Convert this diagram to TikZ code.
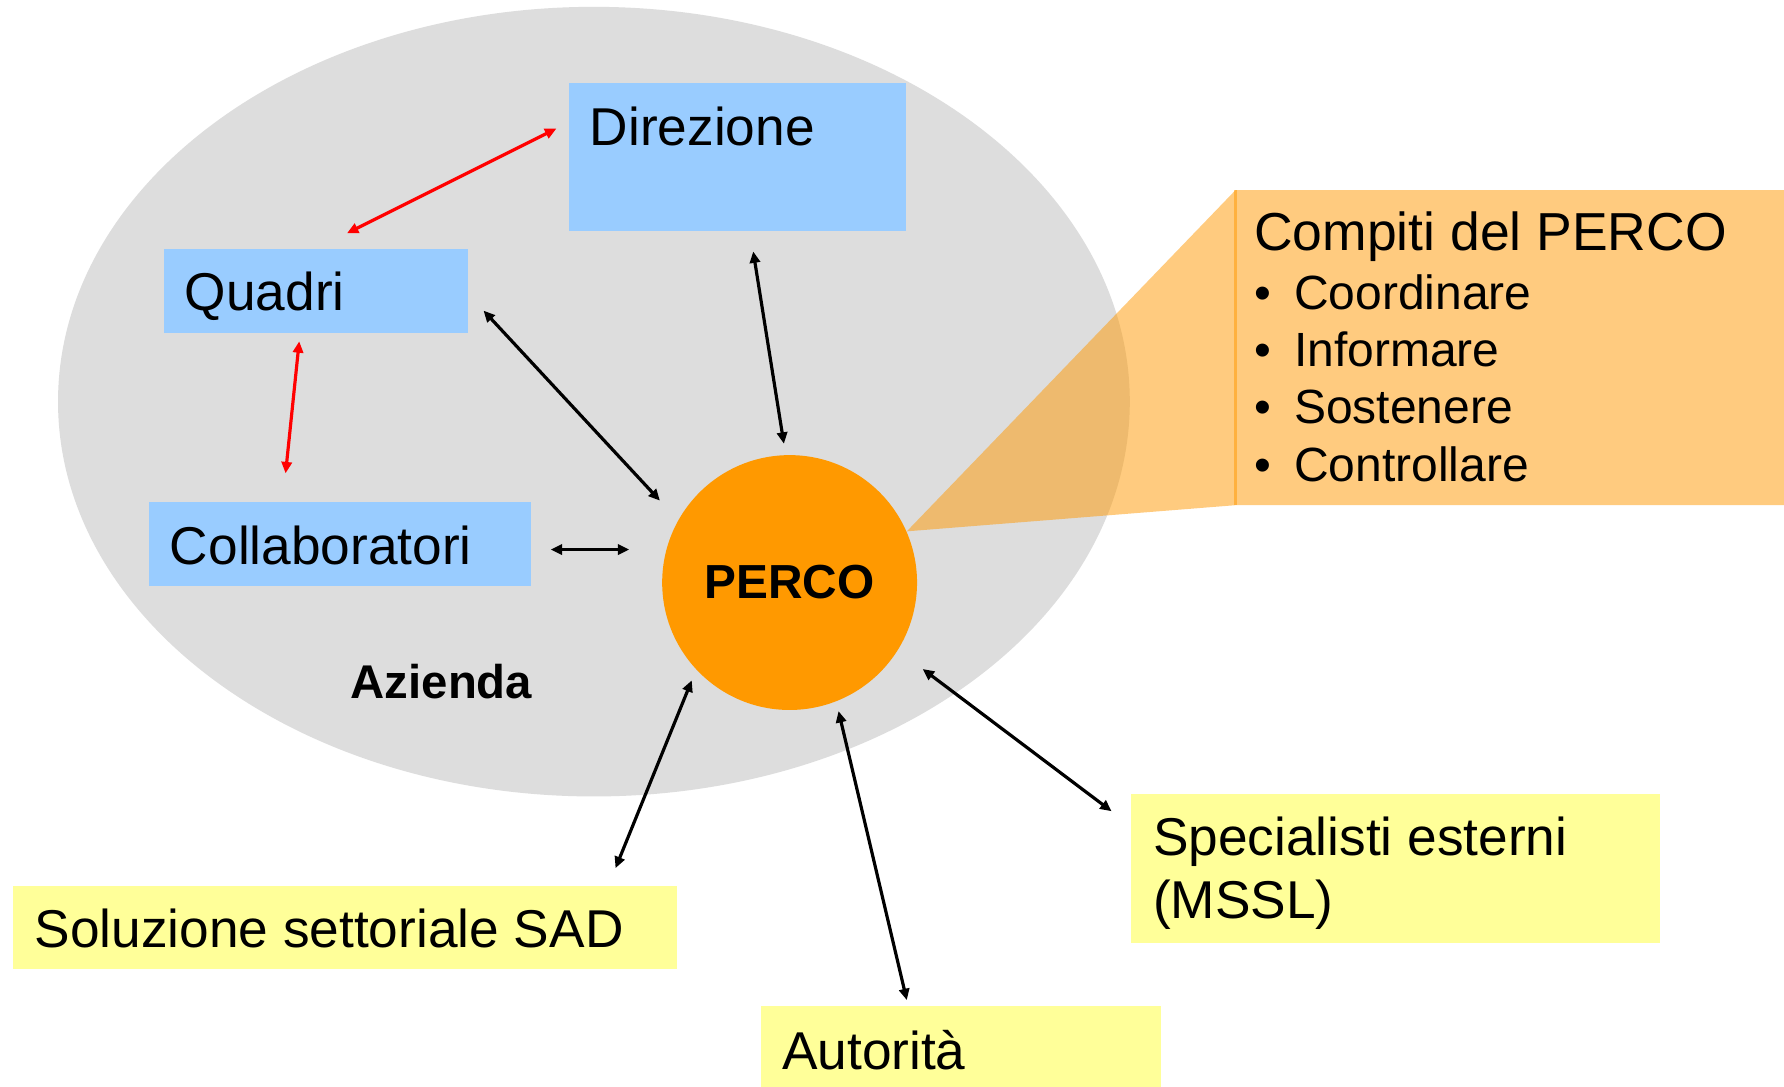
\documentclass[tikz,border=0pt]{standalone}
\usepackage{fontspec}
\setmainfont{Liberation Sans}
\usetikzlibrary{arrows.meta,shapes.geometric}
\definecolor{azgray}{HTML}{DDDDDD}
\definecolor{boxblue}{HTML}{99CCFF}
\definecolor{boxyellow}{HTML}{FFFF99}
\definecolor{percoorange}{HTML}{FF9900}
\tikzset{
  bluebox/.style={rectangle, fill=boxblue, draw=none, inner sep=0pt},
  yellowbox/.style={rectangle, fill=boxyellow, draw=none, inner sep=0pt},
  lbl/.style={anchor=base west, inner sep=0pt, font=\fontsize{23.4}{28}\selectfont},
  itm/.style={anchor=base west, inner sep=0pt, font=\fontsize{21.1}{26}\selectfont},
  blk/.style={black, line width=1.4pt, {Triangle[length=5pt,width=4.5pt]}-{Triangle[length=5pt,width=4.5pt]}},
  redarr/.style={red, line width=1.4pt, {Triangle[length=5pt,width=4.5pt]}-{Triangle[length=5pt,width=4.5pt]}}
}
\begin{document}
\begin{tikzpicture}[x=0.5pt,y=-0.5pt]
\useasboundingbox (0,0) rectangle (1568,955);
\fill[white] (0,0) rectangle (1568,955);
% Azienda ellipse
\node[ellipse, fill=azgray, minimum width=471pt, minimum height=347pt, inner sep=0pt] (az) at (522,353) {};
% blue boxes
\node[bluebox, minimum width=148pt, minimum height=65pt] (dirbox) at (648,138) {};
\node[lbl] (dirtxt) at (518,128) {Direzione};
\node[bluebox, minimum width=133.5pt, minimum height=37pt] (quabox) at (277.5,256) {};
\node[lbl] (quatxt) at (162,273) {Quadri};
\node[bluebox, minimum width=168pt, minimum height=37pt] (colbox) at (299,478) {};
\node[lbl] (coltxt) at (149,496) {Collaboratori};
% Azienda label
\node[anchor=base, inner sep=0pt, font=\fontsize{20.8}{25}\selectfont\bfseries] (aztxt) at (388,614) {Azienda};
% PERCO
\node[circle, fill=percoorange, minimum size=112pt, inner sep=0pt, font=\fontsize{21}{25}\selectfont\bfseries] (perco) at (694,512) {PERCO};
% callout
\fill[percoorange, opacity=0.5] (797,467) -- (1086,167) -- (1568,167) -- (1568,444) -- (1086,444) -- cycle;
\draw[percoorange, opacity=0.5, line width=1.2pt] (1086,167) -- (1086,444);
\node[lbl, font=\fontsize{23.5}{27}\selectfont] (cmptitle) at (1102,220) {Compiti del PERCO};
\node[itm] (it1) at (1102,272) {\makebox[17.5pt][l]{•}Coordinare};
\node[itm] (it2) at (1102,322) {\makebox[17.5pt][l]{•}Informare};
\node[itm] (it3) at (1102,372) {\makebox[17.5pt][l]{•}Sostenere};
\node[itm] (it4) at (1102,423) {\makebox[17.5pt][l]{•}Controllare};
% yellow boxes
\node[yellowbox, minimum width=292pt, minimum height=36.5pt] (sadbox) at (303,815.5) {};
\node[lbl] (sadtxt) at (30,833) {Soluzione settoriale SAD};
\node[yellowbox, minimum width=175.5pt, minimum height=35.5pt] (autbox) at (844.5,919.5) {};
\node[lbl] (auttxt) at (687,940) {Autorità};
\node[yellowbox, minimum width=232.5pt, minimum height=65.5pt] (spebox) at (1226.5,763.5) {};
\node[lbl] (spetxta) at (1013,752) {Specialisti esterni};
\node[lbl] (spetxtb) at (1013,807) {(MSSL)};
% connector end points
\coordinate (dirA) at (489,113);
\coordinate (quaA) at (305,205);
\coordinate (quaB) at (263,300);
\coordinate (colA) at (251,416);
\coordinate (quaC) at (425,273);
\coordinate (pQua) at (580,440);
\coordinate (dirB) at (662,221);
\coordinate (pDir) at (689,390);
\coordinate (colB) at (484,483);
\coordinate (pCol) at (553,483);
\coordinate (pSad) at (608,598);
\coordinate (sadA) at (541,763);
\coordinate (pAut) at (737,625);
\coordinate (autA) at (797,879);
\coordinate (pSpe) at (811,588);
\coordinate (speA) at (977,713);
% connectors
\draw[redarr] (dirA) -- (quaA);
\draw[redarr] (quaB) -- (colA);
\draw[blk] (quaC) -- (pQua);
\draw[blk] (dirB) -- (pDir);
\draw[blk] (colB) -- (pCol);
\draw[blk] (pSad) -- (sadA);
\draw[blk] (pAut) -- (autA);
\draw[blk] (pSpe) -- (speA);
\end{tikzpicture}
\end{document}
